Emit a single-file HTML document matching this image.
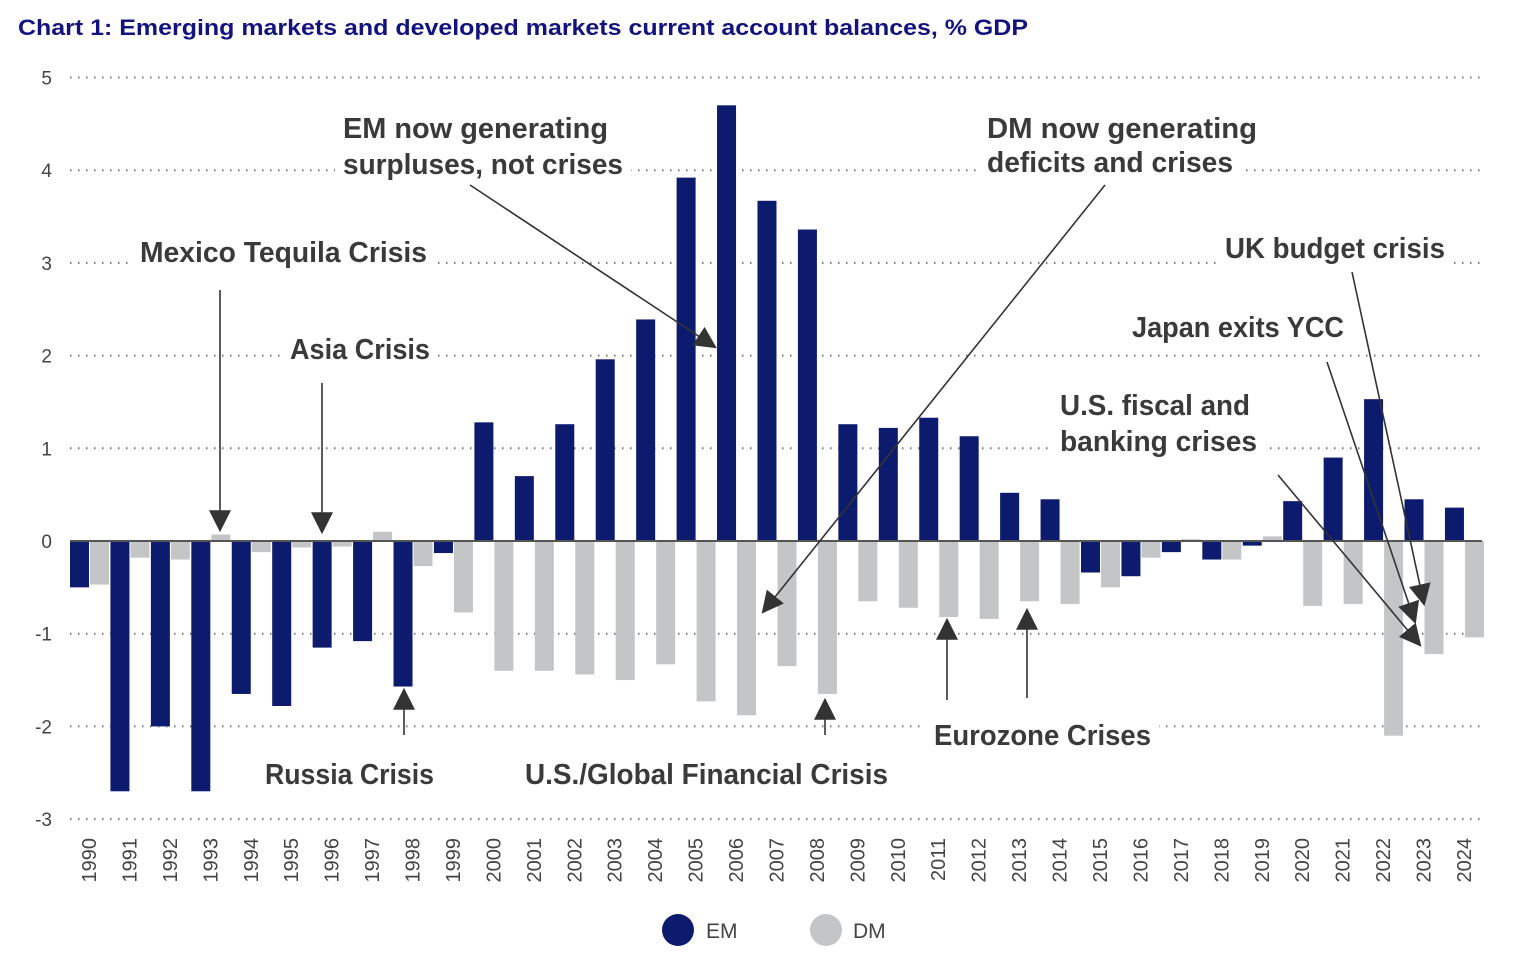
<!DOCTYPE html>
<html><head><meta charset="utf-8"><style>
body{margin:0;background:#fff;}
svg{display:block;}
</style></head><body>
<svg id="chart" width="1528" height="958" xmlns="http://www.w3.org/2000/svg" font-family="Liberation Sans, sans-serif">
<defs>
<marker id="ahb" viewBox="0 0 10 10" refX="9" refY="5" markerWidth="22" markerHeight="22" orient="auto" markerUnits="userSpaceOnUse"><path d="M0,0 L10,5 L0,10 z" fill="#333"/></marker></defs>
<text x="18" y="35" font-size="22" font-weight="bold" fill="#13137e" textLength="1010" lengthAdjust="spacingAndGlyphs">Chart 1: Emerging markets and developed markets current account balances, % GDP</text>
<g id="grid"></g><g id="bars"></g><g id="axis"></g><g id="ann"></g>
<g>
<circle cx="678" cy="930" r="16" fill="#0d1b6e"/>
<text x="706" y="938" font-size="21" fill="#444">EM</text>
<circle cx="826" cy="930" r="16" fill="#c4c5c7"/>
<text x="853" y="938" font-size="21" fill="#444">DM</text>
</g>
</svg>
<script>
const years=[];for(let y=1990;y<=2024;y++)years.push(String(y));
const emValues=[-0.5,-2.7,-2.0,-2.7,-1.65,-1.78,-1.15,-1.08,-1.57,-0.13,1.28,0.7,1.26,1.96,2.39,3.92,4.7,3.67,3.36,1.26,1.22,1.33,1.13,0.52,0.45,-0.34,-0.38,-0.12,-0.2,-0.05,0.43,0.9,1.53,0.45,0.36];
const dmValues=[-0.47,-0.18,-0.2,0.07,-0.12,-0.07,-0.06,0.1,-0.27,-0.77,-1.4,-1.4,-1.44,-1.5,-1.33,-1.73,-1.88,-1.35,-1.65,-0.65,-0.72,-0.82,-0.84,-0.65,-0.68,-0.5,-0.18,0.02,-0.2,0.05,-0.7,-0.68,-2.1,-1.22,-1.04];
const yTicks=[5,4,3,2,1,0,-1,-2,-3];
const NS="http://www.w3.org/2000/svg";
const yS=v=>541-v*92.7;
const xS=i=>89+i*40.44;
const BW=19;
function mk(t,a,p){const e=document.createElementNS(NS,t);for(const k in a)e.setAttribute(k,a[k]);p.appendChild(e);return e;}
const grid=document.getElementById('grid'),bars=document.getElementById('bars'),axis=document.getElementById('axis'),ann=document.getElementById('ann');
yTicks.forEach(v=>{
  if(v!==0){const l=mk('line',{x1:70,x2:1480,y1:yS(v),y2:yS(v),stroke:'#777','stroke-width':2,'stroke-dasharray':'1.5 6.5'},grid);
  
  }
  const t=mk('text',{x:52,y:yS(v)+7,'font-size':19,fill:'#444','text-anchor':'end'},axis);
  t.textContent=v;
  
  
});
years.forEach((yr,i)=>{
  const cx=xS(i);
  const e=emValues[i];
  const r1=mk('rect',{x:cx-BW,y:Math.min(yS(e),yS(0)),width:BW,height:Math.abs(yS(e)-yS(0)),fill:'#0d1b6e'},bars);
  
  
  const d=dmValues[i];
  const r2=mk('rect',{x:cx+1,y:Math.min(yS(d),yS(0)),width:BW,height:Math.abs(yS(d)-yS(0)),fill:'#c4c5c7'},bars);
  
  
  const t=mk('text',{x:0,y:0,'font-size':20,fill:'#444','text-anchor':'end',transform:`translate(${cx+7},838) rotate(-90)`},axis);
  t.textContent=yr;
  
  
});
const z=mk('line',{x1:70,x2:1482,y1:yS(0),y2:yS(0),stroke:'#555','stroke-width':2},axis);


const labels=[["EM now generating",343,138,265],["surpluses, not crises",343,174,280],["DM now generating",987,138,270],["deficits and crises",987,172,246],["Mexico Tequila Crisis",140,262,287],["UK budget crisis",1225,258,220],["Asia Crisis",290,359,140],["Japan exits YCC",1132,337,212],["U.S. fiscal and",1060,415,190],["banking crises",1060,451,197],["Eurozone Crises",934,745,217],["Russia Crisis",265,784,169],["U.S./Global Financial Crisis",525,784,363]];
labels.forEach(([s,x,y,w])=>{
  const b=mk('rect',{x:x-8,y:y-28,width:w+16,height:36,fill:'#fff'},ann);
  
  
  const t=mk('text',{x:x,y:y,'font-size':29,'font-weight':'bold',fill:'#3a3a3a',textLength:w,lengthAdjust:'spacingAndGlyphs'},ann);
  t.textContent=s;
  
  
});
const arrows=[[220,290,220,530],[322,383,322,532],[404,735,404,690],[470,185,715,347],[1105,185,763,612],[825,735,825,700],[947,700,947,620],[1027,698,1027,610],[1278,475,1420,645],[1327,362,1415,622],[1352,272,1424,604]];
arrows.forEach(([x1,y1,x2,y2])=>{
  const l=mk('line',{x1,y1,x2,y2,stroke:'#333','stroke-width':1.6,'marker-end':'url(#ahb)'},ann);
  
  
});
</script>
</body></html>
